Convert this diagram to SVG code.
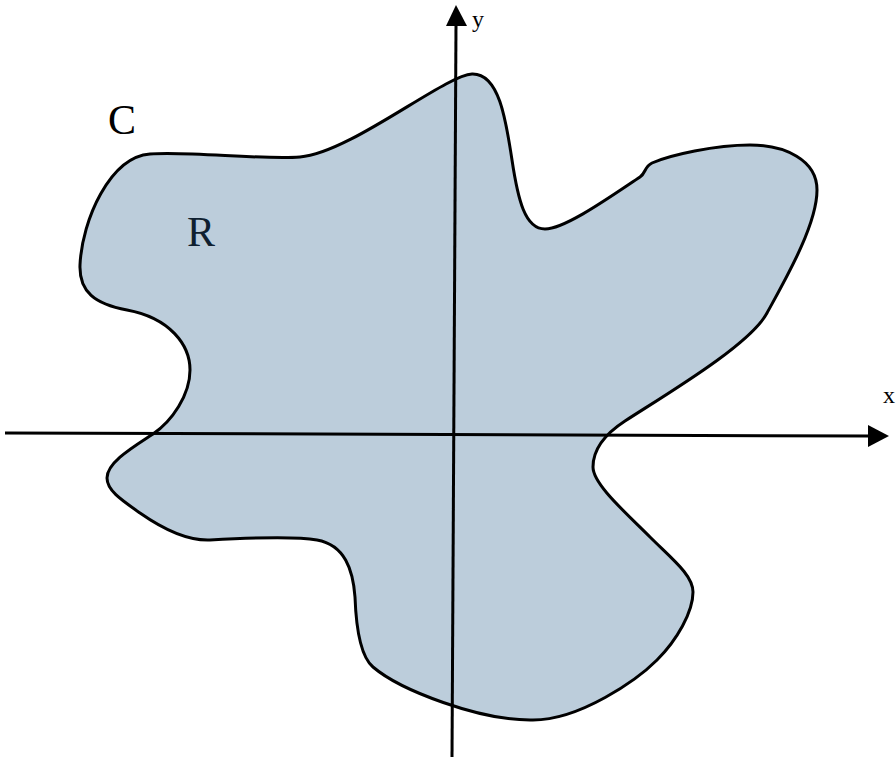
<svg xmlns="http://www.w3.org/2000/svg" width="896" height="760" viewBox="0 0 896 760">
  <style>
    .lbl { font-family: "Liberation Serif", "Times New Roman", serif; }
    .axis { stroke: #000; stroke-width: 3; fill: none; }
    .head { fill: #000; stroke: none; }
  </style>
  <rect x="0" y="0" width="896" height="760" fill="#ffffff"/>
  <g id="region-R">
    <path fill="#bccddb" stroke="#000" stroke-width="3" stroke-linejoin="round"
      d="M 80,265
         C 82,220 110,157 150,154
         C 190,151 260,160 300,157
         C 350,153 445,75 472,74
         C 499,73 506,120 512,160
         C 518,200 525,229 545,229
         C 565,229 610,197 640,177
         C 646,173 644,167 652,163
         C 670,155 715,145 750,145
         C 785,145 817,160 817,190
         C 817,225 785,280 767,313
         C 750,345 665,395 625,421
         C 605,434 593,450 593,467
         C 593,484 625,512 650,537
         C 672,559 693,575 693,592
         C 693,612 677,640 657,660
         C 637,680 580,720 533,720
         C 480,721 400,690 373,667
         C 360,656 356,625 355,597
         C 353,570 345,545 317,540
         C 295,536 245,538 210,540
         C 185,541 160,527 140,513
         C 120,499 107,490 107,478
         C 107,462 135,446 153,434
         C 172,421 190,395 190,370
         C 190,345 170,318 127,310
         C 95,304 79,292 80,265 Z"/>
  </g>
  <g id="axes">
    <line class="axis" x1="5" y1="433" x2="870" y2="436"/>
    <polygon class="head" points="889,436 868,425 868,447"/>
    <line class="axis" x1="452" y1="757" x2="456" y2="24"/>
    <polygon class="head" points="456,5 446,26 467,26"/>
  </g>
  <g id="labels">
    <text class="lbl" x="472" y="27" font-size="24" fill="#000">y</text>
    <text class="lbl" x="883" y="403" font-size="24" fill="#000">x</text>
    <text class="lbl" x="108" y="134" font-size="42" fill="#000">C</text>
    <text class="lbl" x="187" y="246" font-size="42" fill="#0f1f30">R</text>
  </g>
</svg>
